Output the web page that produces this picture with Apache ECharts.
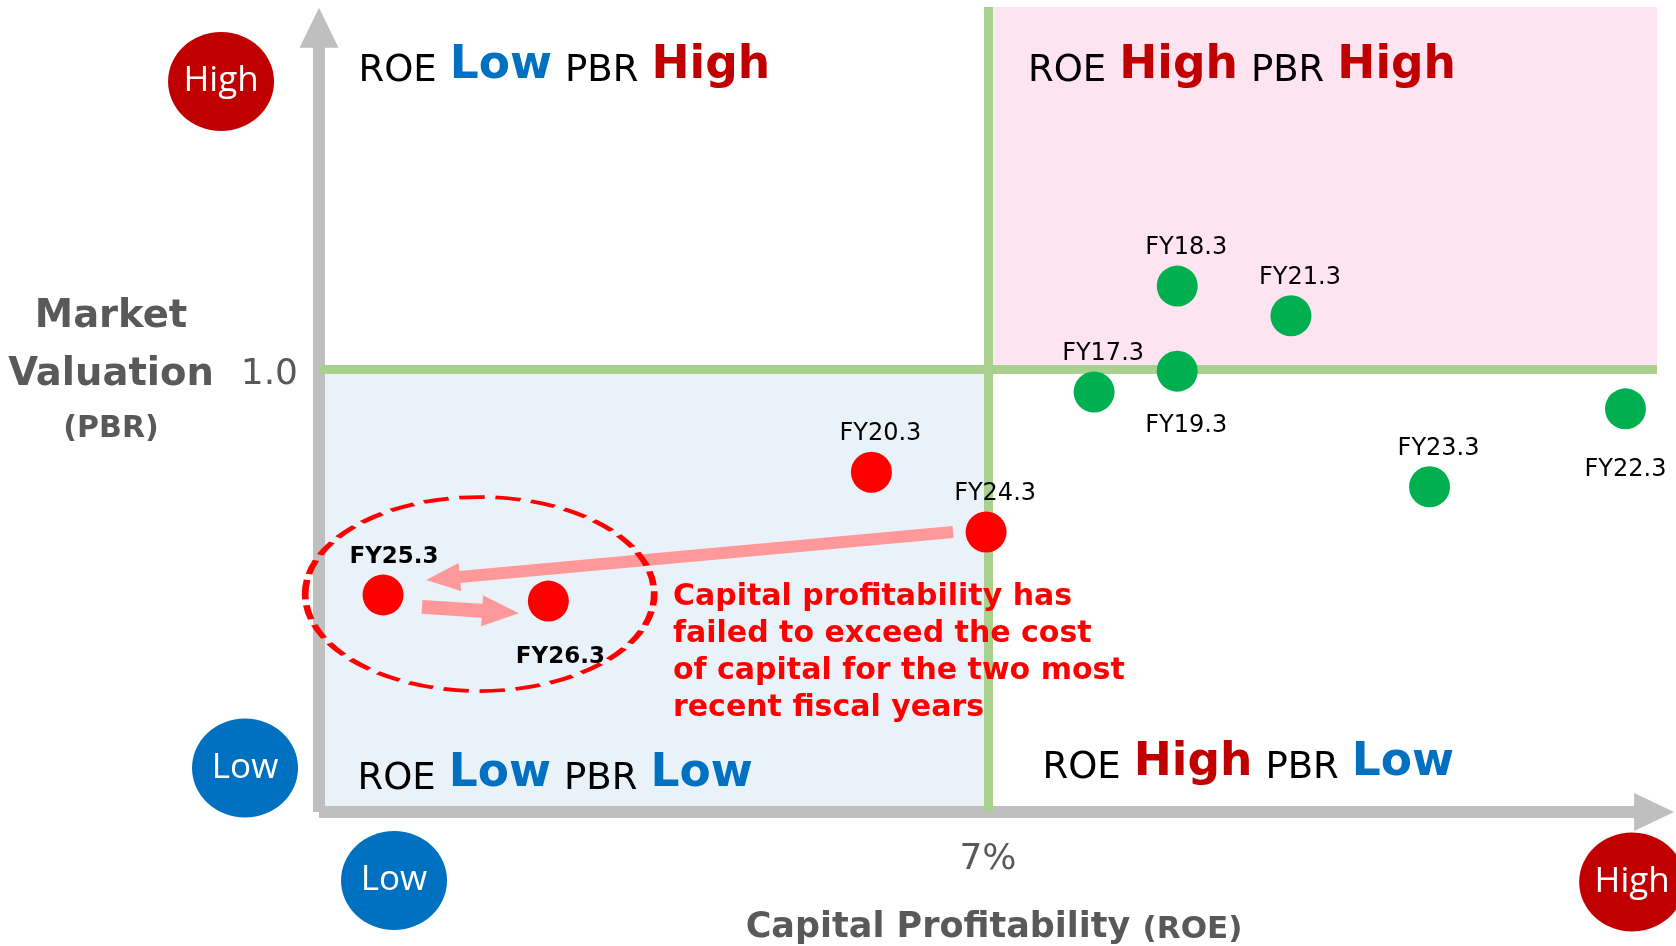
<!DOCTYPE html>
<html>
<head>
<meta charset="utf-8">
<script src="https://cdn.jsdelivr.net/npm/echarts@6/dist/echarts.min.js"></script>
<style>
html,body{margin:0;padding:0;background:#ffffff;}
#chart{width:1676px;height:946px;}
</style>
</head>
<body>
<div id="chart"></div>
<script>
// ---------------- data ----------------
const fiscalYears = ['FY17.3','FY18.3','FY19.3','FY20.3','FY21.3','FY22.3','FY23.3','FY24.3','FY25.3','FY26.3'];
const roeValues   = [8.11, 8.98, 8.98, 5.78, 10.17, 13.67, 11.62, 6.98, 0.67, 2.40];
const pbrValues   = [0.948, 1.187, 0.995, 0.767, 1.120, 0.910, 0.734, 0.632, 0.490, 0.476];
const roeThreshold = 7;      // cost of capital
const pbrThreshold = 1.0;
const roeTickLabels = ['7%'];
const pbrTickLabels = ['1.0'];
const quadrantTitles = [
  '{n|ROE} {lo|Low} {n|PBR} {hi|High}',
  '{n|ROE} {hi|High} {n|PBR} {hi|High}',
  '{n|ROE} {lo|Low} {n|PBR} {lo|Low}',
  '{n|ROE} {hi|High} {n|PBR} {lo|Low}'
];
const badgeTexts = ['High', 'Low', 'Low', 'High'];
const noteLines = [
  'Capital profitability has',
  'failed to exceed the cost',
  'of capital for the two most',
  'recent fiscal years'
];
const yAxisTitle = ['Market', 'Valuation', '(PBR)'];
const xAxisTitle = ['Capital Profitability', '(ROE)'];

// ---------------- styling / layout ----------------
const X_MIN = 0, X_MAX = 14, Y_MIN = 0, Y_MAX = 1.817;
const FONT = 'DejaVu Sans';
const GREEN = '#00b050', RED = '#ff0000';
const DARK_RED = '#c00000', BLUE = '#0070c0';
const GRAY_TXT = '#595959';
const ELLIPSE = 'path://M0,50 C0,22.4 22.4,0 50,0 C77.6,0 100,22.4 100,50 C100,77.6 77.6,100 50,100 C22.4,100 0,77.6 0,50 Z';

const idx = n => fiscalYears.indexOf(n);
const i24 = idx('FY24.3'), i25 = idx('FY25.3'), i26 = idx('FY26.3');
const recent = [i25, i26];

const labelPlacement = {
  'FY19.3': {position: 'bottom', distance: 22.5, offset: [9, 0]},
  'FY22.3': {position: 'bottom', distance: 28.5, offset: [0, 0]},
  'FY26.3': {position: 'bottom', distance: 24, offset: [12, 0]},
  'FY25.3': {position: 'top', distance: 5.5, offset: [11, 0]}
};
const defaultPlacement = {position: 'top', distance: 5.5, offset: [9, 0]};

const pointData = fiscalYears.map((name, i) => {
  const lp = labelPlacement[name] || defaultPlacement;
  const bold = recent.includes(i);
  return {
    name: name,
    value: [roeValues[i], pbrValues[i]],
    itemStyle: {color: roeValues[i] < roeThreshold ? RED : GREEN, opacity: 1},
    label: {
      show: true, formatter: name,
      position: lp.position, distance: lp.distance, offset: lp.offset,
      fontFamily: FONT, fontSize: bold ? 23 : 24, fontWeight: bold ? 'bold' : 'normal',
      color: '#000000', opacity: 1
    }
  };
});

const quadRich = {
  n:  {fontFamily: FONT, fontSize: 37, color: '#000000', lineHeight: 31.6, verticalAlign: 'bottom'},
  lo: {fontFamily: FONT, fontSize: 45.5, fontWeight: 'bold', color: BLUE, lineHeight: 37.5, verticalAlign: 'bottom'},
  hi: {fontFamily: FONT, fontSize: 45.5, fontWeight: 'bold', color: DARK_RED, lineHeight: 37.5, verticalAlign: 'bottom'}
};
function quadLabel(text, pos) {
  return {show: true, position: pos, formatter: text, fontFamily: FONT, fontSize: 41,
          lineHeight: 31.6, rich: quadRich};
}

const option = {
  animation: false,
  backgroundColor: '#ffffff',
  grid: {left: 319, right: 19, top: 7, bottom: 134, containLabel: false, outerBoundsMode: 'none'},
  xAxis: {
    type: 'value', min: X_MIN, max: X_MAX,
    axisLine: {show: false}, axisTick: {show: false}, splitLine: {show: false},
    axisLabel: {
      show: true, customValues: [roeThreshold], formatter: (v, i) => roeTickLabels[0],
      margin: 30, fontFamily: FONT, fontSize: 36, color: GRAY_TXT
    },
    name: '{a|' + xAxisTitle[0] + '} {b|' + xAxisTitle[1] + '}',
    nameLocation: 'middle', nameGap: 103, nameMoveOverlap: false,
    nameTextStyle: {
      fontFamily: FONT, fontSize: 35, fontWeight: 'bold', color: GRAY_TXT, lineHeight: 30.2,
      padding: [0, 0, 0, 12],
      rich: {
        a: {fontFamily: FONT, fontSize: 35, fontWeight: 'bold', color: GRAY_TXT, lineHeight: 30.2, verticalAlign: 'bottom'},
        b: {fontFamily: FONT, fontSize: 31, fontWeight: 'bold', color: GRAY_TXT, lineHeight: 27.5, verticalAlign: 'bottom'}
      }
    }
  },
  yAxis: {
    type: 'value', min: Y_MIN, max: Y_MAX,
    axisLine: {show: false}, axisTick: {show: false}, splitLine: {show: false},
    axisLabel: {
      show: true, customValues: [pbrThreshold], formatter: (v, i) => '{v|' + pbrTickLabels[0] + '}',
      margin: 21, fontFamily: FONT, fontSize: 36, color: GRAY_TXT,
      rich: {v: {fontFamily: FONT, fontSize: 36, color: GRAY_TXT, padding: [11, 0, 0, 0]}}
    },
    name: '{a|' + yAxisTitle[0] + '}\n{a|' + yAxisTitle[1] + '}\n{b|' + yAxisTitle[2] + '}',
    nameLocation: 'middle', nameRotate: 0, nameGap: 208, nameMoveOverlap: false,
    nameTextStyle: {
      align: 'center', verticalAlign: 'middle', padding: [0, 0, 77, 0],
      fontFamily: FONT, fontWeight: 'bold', fontSize: 38, color: GRAY_TXT,
      rich: {
        a: {fontFamily: FONT, fontSize: 38.5, fontWeight: 'bold', color: GRAY_TXT, lineHeight: 58, align: 'center'},
        b: {fontFamily: FONT, fontSize: 30, fontWeight: 'bold', color: GRAY_TXT, lineHeight: 50, align: 'center'}
      }
    }
  },
  series: [
    // quadrant backgrounds + titles
    {
      type: 'scatter', data: [], silent: true,
      markArea: {
        silent: true, z: 1,
        data: [
          [{coord: [X_MIN, pbrThreshold], itemStyle: {color: 'rgba(0,0,0,0)'}, label: quadLabel(quadrantTitles[0], [39.5, 45])},
           {coord: [roeThreshold, Y_MAX]}],
          [{coord: [roeThreshold, pbrThreshold], itemStyle: {color: '#fde4f0', opacity: 1}, label: quadLabel(quadrantTitles[1], [40, 45])},
           {coord: [X_MAX, Y_MAX]}],
          [{coord: [X_MIN, Y_MIN], itemStyle: {color: '#e9f1f9', opacity: 1}, label: quadLabel(quadrantTitles[2], [38.5, 391])},
           {coord: [roeThreshold, pbrThreshold]}],
          [{coord: [roeThreshold, Y_MIN], itemStyle: {color: 'rgba(0,0,0,0)'}, label: quadLabel(quadrantTitles[3], [54.5, 380])},
           {coord: [X_MAX, pbrThreshold]}]
        ]
      }
    },
    // gray axes with arrow heads
    {
      type: 'scatter', data: [], silent: true,
      markLine: {
        silent: true, z: 1.1, symbol: ['none', 'triangle'],
        label: {show: false},
        lineStyle: {color: '#bfbfbf', width: 12, type: 'solid', cap: 'butt', opacity: 1},
        emphasis: {disabled: true},
        data: [
          [{coord: [X_MIN, Y_MIN], symbol: 'none'}, {coord: [13.97, Y_MIN], symbol: 'triangle', symbolSize: [38, 40]}],
          [{coord: [X_MIN, Y_MIN], symbol: 'none'}, {coord: [X_MIN, 1.77], symbol: 'triangle', symbolSize: [39, 40]}]
        ]
      }
    },
    // green threshold lines
    {
      type: 'scatter', data: [], silent: true,
      markLine: {
        silent: true, z: 1.2, symbol: ['none', 'none'],
        label: {show: false},
        lineStyle: {color: '#a9d18e', width: 9, type: 'solid', cap: 'butt', opacity: 1},
        emphasis: {disabled: true},
        data: [
          [{coord: [roeThreshold, Y_MIN]}, {coord: [roeThreshold, Y_MAX]}],
          [{coord: [X_MIN, pbrThreshold]}, {coord: [X_MAX, pbrThreshold]}]
        ]
      }
    },
    // long pink arrow FY24.3 -> FY25.3
    {
      type: 'scatter', data: [], silent: true,
      markLine: {
        silent: true, z: 2, symbol: ['none', 'triangle'],
        label: {show: false},
        lineStyle: {color: '#ff9999', width: 12, type: 'solid', cap: 'butt', opacity: 1},
        emphasis: {disabled: true},
        data: [
          [{coord: [roeValues[i24] - 0.345, pbrValues[i24]], symbol: 'none'},
           {coord: [roeValues[i25] + 0.627, pbrValues[i25] + 0.037], symbol: 'triangle', symbolSize: [28, 34]}]
        ]
      }
    },
    // short pink arrow FY25.3 -> FY26.3
    {
      type: 'scatter', data: [], silent: true,
      markLine: {
        silent: true, z: 2, symbol: ['none', 'triangle'],
        label: {show: false},
        lineStyle: {color: '#ff9999', width: 14, type: 'solid', cap: 'butt', opacity: 1},
        emphasis: {disabled: true},
        data: [
          [{coord: [roeValues[i25] + 0.408, pbrValues[i25] - 0.027], symbol: 'none'},
           {coord: [roeValues[i26] - 0.501, pbrValues[i26] - 0.0245], symbol: 'triangle', symbolSize: [31, 37]}]
        ]
      }
    },
    // dashed ellipse around the two most recent years
    {
      type: 'scatter', silent: true, z: 2.5, clip: false,
      symbol: ELLIPSE, symbolSize: [349, 194], symbolOffset: [14, -4],
      itemStyle: {color: 'rgba(0,0,0,0)', borderColor: RED, borderWidth: 5, borderType: [19, 8], opacity: 1},
      emphasis: {disabled: true},
      data: [[(roeValues[i25] + roeValues[i26]) / 2, (pbrValues[i25] + pbrValues[i26]) / 2]]
    },
    // data points
    {
      name: 'ROE / PBR', type: 'scatter', z: 3, silent: true,
      symbol: 'circle', symbolSize: 41,
      itemStyle: {opacity: 1},
      emphasis: {disabled: true},
      data: pointData
    },
    // High / Low badges
    {
      type: 'scatter', z: 3, silent: true, clip: false,
      symbol: ELLIPSE, symbolSize: [106, 99],
      itemStyle: {opacity: 1},
      emphasis: {disabled: true},
      label: {show: true, position: 'inside', fontFamily: 'Open Sans', fontSize: 35, color: '#ffffff', opacity: 1,
              formatter: p => p.data.text},
      data: [
        {value: [-1.025, 1.649], text: badgeTexts[0], itemStyle: {color: DARK_RED, opacity: 1}},
        {value: [-0.774, 0.0993], text: badgeTexts[1], itemStyle: {color: BLUE, opacity: 1}},
        {value: [0.785, -0.1546], text: badgeTexts[2], itemStyle: {color: BLUE, opacity: 1}},
        {value: [13.74, -0.158], text: badgeTexts[3], itemStyle: {color: DARK_RED, opacity: 1}}
      ]
    },
    // red annotation note
    {
      type: 'scatter', z: 3, silent: true, clip: false,
      symbol: 'rect', symbolSize: 1,
      itemStyle: {color: 'rgba(0,0,0,0)', opacity: 1},
      emphasis: {disabled: true},
      label: {show: true, position: [0, 0], align: 'left', verticalAlign: 'top', opacity: 1,
              formatter: noteLines.join('\n'),
              fontFamily: FONT, fontWeight: 'bold', fontSize: 30, lineHeight: 37, color: RED},
      data: [[3.709, 0.526]]
    }
  ]
};

const chart = echarts.init(document.getElementById('chart'), null, {renderer: 'canvas'});
chart.setOption(option);
</script>
</body>
</html>
